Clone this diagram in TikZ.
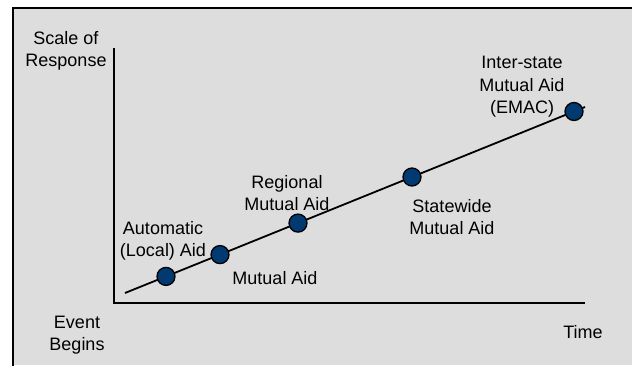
\documentclass[tikz,border=0pt]{standalone}
\usepackage{fontspec}
\setmainfont{Liberation Sans}
\definecolor{bg}{HTML}{DDDDDD}
\definecolor{navy}{HTML}{003A70}
\tikzset{
  dot/.style={circle, draw=black, line width=1.3pt, fill=navy, minimum size=18pt, inner sep=0pt},
  lbl/.style={align=center, font=\fontsize{18}{22.5}\selectfont, inner sep=0pt},
  axis/.style={line width=2pt},
  trend/.style={line width=1.8pt}
}
\begin{document}
\begin{tikzpicture}[x=1pt, y=-1pt]
\useasboundingbox (0,0) rectangle (632,365);
\fill[bg] (13,8) rectangle (632,365);
\draw[line width=2.5pt] (13,366) -- (13,8) -- (633,8);
% axes
\coordinate (ytop) at (114,48);
\coordinate (orig) at (114,303);
\coordinate (xend) at (585,303);
\draw[axis] (ytop) -- (orig) -- (xend);
% trend line
\coordinate (s) at (125,293);
\coordinate (e) at (585,107);
\draw[trend] (s) -- (e);
\node[dot] (c1) at (166,276.4) {};
\node[dot] (c2) at (220,254.6) {};
\node[dot] (c3) at (298,223.1) {};
\node[dot] (c4) at (412,177.0) {};
\node[dot] (c5) at (574,111.5) {};
% labels
\node[lbl] (ly) at (66,51) {Scale of\\Response};
\node[lbl] (lev) at (77,335) {Event\\Begins};
\node[lbl] (lt) at (583,332) {Time};
\node[lbl] (l1) at (163,241) {Automatic\\(Local) Aid};
\node[lbl] (l2) at (275,278) {Mutual Aid};
\node[lbl] (l3) at (287,193) {Regional\\Mutual Aid};
\node[lbl] (l4) at (452,217) {Statewide\\Mutual Aid};
\node[lbl] (l5) at (522,87) {Inter-state\\Mutual Aid\\(EMAC)};
\end{tikzpicture}
\end{document}
